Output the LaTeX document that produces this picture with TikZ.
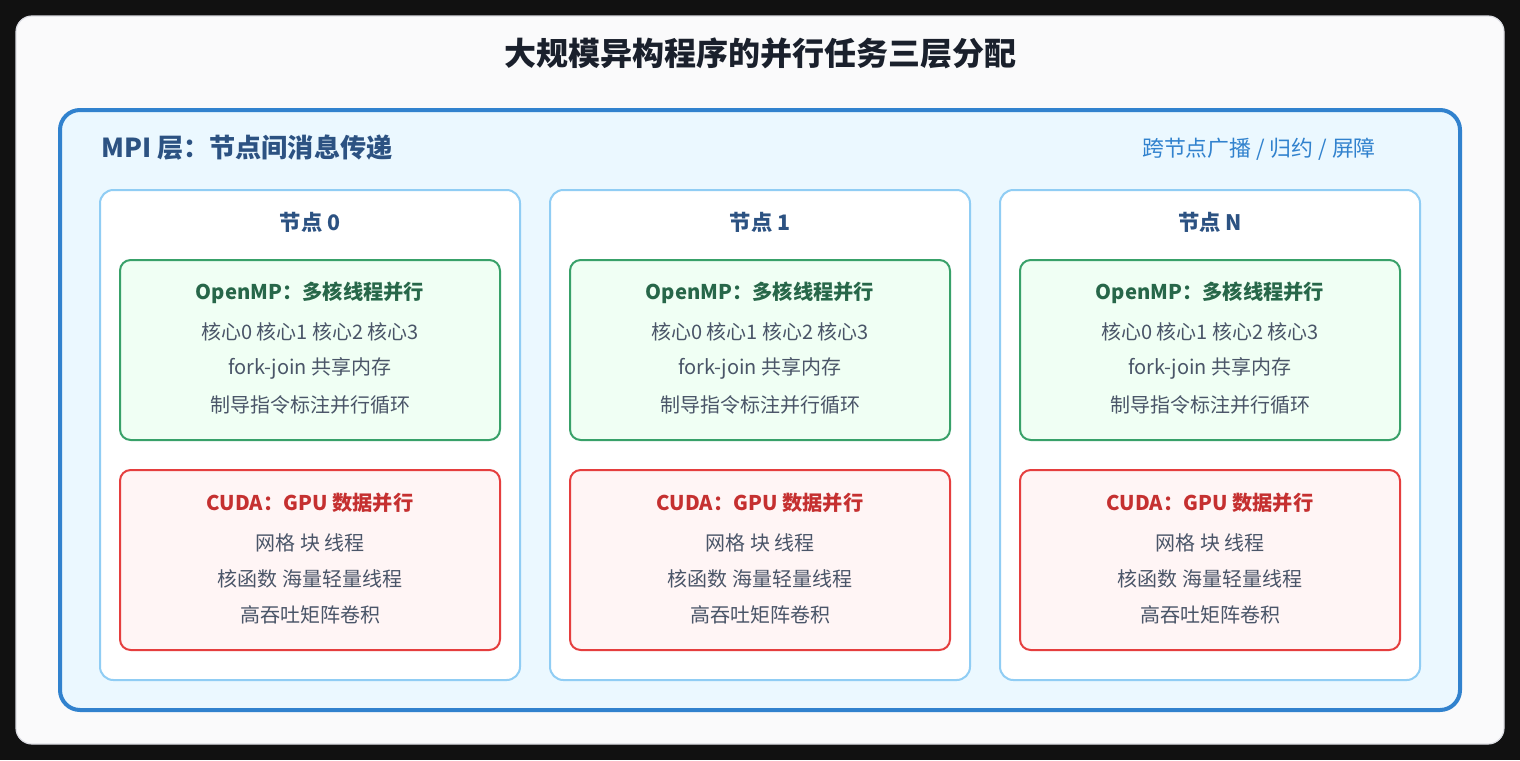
\documentclass[tikz,border=0pt]{standalone}
\usepackage{fontspec}
\setmainfont{Noto Sans CJK SC}
\usetikzlibrary{positioning}
\definecolor{pagebg}{HTML}{111111}
\definecolor{cardbg}{HTML}{FAFAFB}
\definecolor{cardline}{HTML}{DCDDE3}
\definecolor{titlecol}{HTML}{1A202C}
\definecolor{mpiline}{HTML}{3182CE}
\definecolor{mpibg}{HTML}{EBF8FF}
\definecolor{mpitext}{HTML}{2C5282}
\definecolor{nodeline}{HTML}{90CDF4}
\definecolor{ompline}{HTML}{38A169}
\definecolor{ompbg}{HTML}{F0FFF4}
\definecolor{omptext}{HTML}{276749}
\definecolor{cudaline}{HTML}{E53E3E}
\definecolor{cudabg}{HTML}{FFF5F5}
\definecolor{cudatext}{HTML}{C53030}
\definecolor{bodycol}{HTML}{4A5568}
\tikzset{
  card/.style={draw=cardline,fill=cardbg,line width=0.9pt,rounded corners=12pt,
    minimum width=1116pt,minimum height=546pt},
  mpibox/.style={draw=mpiline,fill=mpibg,line width=3pt,rounded corners=15pt,
    minimum width=1050pt,minimum height=450pt},
  nodebox/.style={draw=nodeline,fill=white,line width=1.5pt,rounded corners=10pt,
    minimum width=315pt,minimum height=367.5pt},
  layerbox/.style={line width=1.5pt,rounded corners=8pt,
    minimum width=285pt,minimum height=135pt},
  ompbox/.style={layerbox,draw=ompline,fill=ompbg},
  cudabox/.style={layerbox,draw=cudaline,fill=cudabg},
  bodytext/.style={text=bodycol,font=\fontsize{15}{18}\selectfont,inner sep=0pt},
  boxtitle/.style={font=\bfseries\fontsize{15.2}{18}\selectfont,inner sep=0pt},
  nodetitle/.style={text=mpitext,font=\bfseries\fontsize{16}{19}\selectfont,inner sep=0pt},
}
% one compute node: name, x centre, label
\def\clusternode#1#2#3{
  \node[nodebox] (n#1) at (#2,435) {};
  \node[nodetitle] (n#1t) at (#2,222) {节点 #3};
  \node[ompbox] (omp#1) at (#2,350) {};
  \node[boxtitle,text=omptext] (omp#1t) at (#2,293) {OpenMP：多核线程并行};
  \node[bodytext] (omp#1a) at (#2,332) {核心0 核心1 核心2 核心3};
  \node[bodytext] (omp#1b) at (#2,368) {fork-join 共享内存};
  \node[bodytext] (omp#1c) at (#2,405) {制导指令标注并行循环};
  \node[cudabox] (cuda#1) at (#2,560) {};
  \node[boxtitle,text=cudatext] (cuda#1t) at (#2,503) {CUDA：GPU 数据并行};
  \node[bodytext] (cuda#1a) at (#2,543) {网格 块 线程};
  \node[bodytext] (cuda#1b) at (#2,579) {核函数 海量轻量线程};
  \node[bodytext] (cuda#1c) at (#2,615) {高吞吐矩阵卷积};
}
\begin{document}
\begin{tikzpicture}[x=0.75pt,y=-0.75pt]
\fill[pagebg] (0,0) rectangle (1520,760);
\useasboundingbox (0,0) rectangle (1520,760);
\node[card] (card) at (760,380) {};
\node[text=titlecol,font=\bfseries\fontsize{24}{28}\selectfont] (title) at (760,53) {大规模异构程序的并行任务三层分配};
\node[mpibox] (mpi) at (760,410) {};
\node[text=mpitext,font=\bfseries\fontsize{19.6}{23}\selectfont,anchor=west,inner sep=0pt] (mpit) at (101,148) {MPI 层：节点间消息传递};
\node[text=mpiline,font=\fontsize{16.4}{19}\selectfont,inner sep=0pt] (mpic) at (1259,149) {跨节点广播 / 归约 / 屏障};
\clusternode{0}{310}{0}
\clusternode{1}{760}{1}
\clusternode{N}{1210}{N}
\end{tikzpicture}
\end{document}
